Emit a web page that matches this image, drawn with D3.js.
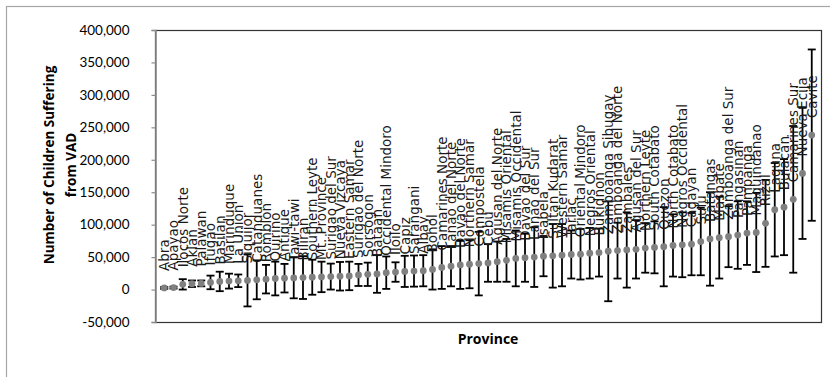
<!DOCTYPE html>
<html>
<head>
<meta charset="utf-8">
<script src="https://cdn.jsdelivr.net/npm/d3@7"></script>
<style>
  html, body { margin: 0; padding: 0; background: #fff; overflow: hidden; }
  svg { display: block; }
</style>
</head>
<body>
<svg id="chart" width="830" height="377"></svg>
<script>
// Provinces, sorted by estimated number of children with VAD
const provinces = [
  "Abra", "Apayao", "Ilocos Norte", "Aklan", "Palawan", "Ifugao", "Basilan",
  "Marinduque", "La Union", "Siquijor", "Catanduanes", "Romblon", "Quirino",
  "Antique", "Tawi-tawi", "Biliran", "Southern Leyte", "Mt. Province",
  "Surigao del Sur", "Nueva Vizcaya", "Eastern Samar", "Surigao del Norte",
  "Sorsogon", "Bataan", "Occidental Mindoro", "Iloilo", "Capiz", "Sarangani",
  "Albay", "Bohol", "Camarines Norte", "Lanao del Norte", "Davao del Norte",
  "Northern Samar", "Compostela", "Cebu", "Agusan del Norte", "Misamis Oriental",
  "Misamis Occidental", "Davao del Sur", "Lanao del Sur", "Isabela",
  "Sultan Kudarat", "Western Samar", "Tarlac", "Oriental Mindoro",
  "Negros Oriental", "Bukidnon", "Zamboanga Sibugay", "Zamboanga del Norte",
  "Zambales", "Agusan del Sur", "Northern Leyte", "South Cotabato", "Quezon",
  "North Cotabato", "Negros Occidental", "Cagayan", "Sulu", "Batangas",
  "Masbate", "Zamboanga del Sur", "Pangasinan", "Pampanga", "Maguindanao",
  "Rizal", "Laguna", "Bulacan", "Camarines Sur", "Nueva Ecija", "Cavite"
];

// Estimated number of children suffering from VAD
const children = [
  2500, 3000, 8000, 9000, 9500, 11000, 12500,
  13000, 13500, 14000, 15000, 16000, 17000,
  17500, 18000, 18500, 19000, 19500,
  20000, 20500, 21000, 22500,
  23500, 24000, 26000, 27000, 28000, 28500,
  29000, 31000, 34000, 36000, 38000,
  39000, 40000, 41000, 43000, 45000,
  48000, 49000, 50000, 51500,
  52000, 53000, 54000, 54500,
  56000, 57000, 59000, 60000,
  61000, 62000, 64000, 65000, 66000,
  68000, 69000, 70000, 74000, 78000,
  80000, 81500, 84000, 87000, 88000,
  102000, 123000, 127000, 139000, 179000, 238000
];

// Half-width of each error bar
const errors = [
  1500, 1500, 8000, 5000, 4500, 10500, 15000,
  11500, 9700, 40000, 30000, 22000, 26000,
  22000, 31500, 33000, 27000, 23500,
  20000, 22000, 22000, 17000,
  18000, 29000, 25000, 15000, 24000, 24000,
  24000, 31000, 33000, 31000, 37000,
  37000, 49000, 29000, 31000, 33000,
  43000, 37000, 46000, 31000,
  49000, 48000, 37000, 39000,
  39000, 37000, 77000, 43000,
  58000, 45000, 38000, 40000, 61000,
  48000, 50000, 48000, 52000, 72000,
  63000, 47000, 52000, 49000, 61000,
  67000, 72000, 74000, 113000, 101000, 132000
];

// Value axis ticks
const yTickValues = [-50000, 0, 50000, 100000, 150000, 200000, 250000, 300000, 350000, 400000];

const yTitleLines = ["Number of Children Suffering", "from VAD"];
const xTitle = "Province";

const svg = d3.select("#chart");
const plot = { left: 155, right: 821, top: 30, bottom: 322 };

const x = d3.scalePoint()
  .domain(provinces)
  .range([plot.left, plot.right])
  .padding(1);

const y = d3.scaleLinear()
  .domain([-50000, 400000])
  .range([plot.bottom, plot.top]);

const rows = provinces.map((p, i) => ({ name: p, value: children[i], err: errors[i] }));

// Chart area border (right and bottom edges run past the canvas)
svg.append("rect")
  .attr("x", 6.5).attr("y", 6.5)
  .attr("width", 840).attr("height", 390)
  .attr("fill", "#fff")
  .attr("stroke", "#a6a6a6")
  .attr("stroke-width", 1.2);

// Plot area frame
svg.append("rect")
  .attr("x", plot.left + 0.5).attr("y", plot.top + 0.5)
  .attr("width", plot.right - plot.left).attr("height", plot.bottom - plot.top)
  .attr("fill", "none")
  .attr("stroke", "#333")
  .attr("stroke-width", 1.2);

// Value axis
const fmt = d3.format(",");
const yAxis = d3.axisLeft(y)
  .tickValues(yTickValues)
  .tickSize(4)
  .tickPadding(22)
  .tickFormat(d => fmt(d).replace("\u2212", "-"));

const gy = svg.append("g")
  .attr("transform", `translate(${plot.left + 0.5},0)`)
  .call(yAxis);
gy.select(".domain").attr("stroke", "#8c8c8c").attr("stroke-width", 1.6);
gy.selectAll(".tick line").attr("stroke", "#8c8c8c").attr("stroke-width", 1.2);
gy.selectAll(".tick text")
  .attr("fill", "#000")
  .style("font-family", "Lato, 'Open Sans', sans-serif")
  .style("font-size", "13.5px");

// Error bars
const capW = 4;
const eb = svg.append("g").attr("stroke", "#000").attr("stroke-width", 1.8).attr("fill", "none");
eb.selectAll("line.stem")
  .data(rows).join("line")
  .attr("class", "stem")
  .attr("x1", d => x(d.name)).attr("x2", d => x(d.name))
  .attr("y1", d => y(d.value - d.err)).attr("y2", d => y(d.value + d.err));
eb.selectAll("line.capTop")
  .data(rows).join("line")
  .attr("class", "capTop")
  .attr("x1", d => x(d.name) - capW).attr("x2", d => x(d.name) + capW)
  .attr("y1", d => y(d.value + d.err)).attr("y2", d => y(d.value + d.err));
eb.selectAll("line.capBot")
  .data(rows).join("line")
  .attr("class", "capBot")
  .attr("x1", d => x(d.name) - capW).attr("x2", d => x(d.name) + capW)
  .attr("y1", d => y(d.value - d.err)).attr("y2", d => y(d.value - d.err));

// Points
svg.append("g").selectAll("circle")
  .data(rows).join("circle")
  .attr("cx", d => x(d.name))
  .attr("cy", d => y(d.value))
  .attr("r", 3.4)
  .attr("fill", "#808080");

// Province labels above each point, rotated
svg.append("g").selectAll("text")
  .data(rows).join("text")
  .attr("transform", d => `translate(${x(d.name)},${y(d.value) - 17}) rotate(-90)`)
  .attr("dy", "0.36em")
  .attr("text-anchor", "start")
  .style("font-family", "'DejaVu Sans', Verdana, sans-serif")
  .style("font-size", "13.5px")
  .attr("fill", "#1a1a1a")
  .text(d => d.name);

// Axis titles
const yt = svg.append("text")
  .attr("transform", "translate(59,165) rotate(-90)")
  .attr("text-anchor", "middle")
  .style("font-family", "'Open Sans', Lato, sans-serif")
  .style("font-weight", "700")
  .style("font-size", "13.5px")
  .attr("fill", "#000");
yTitleLines.forEach((line, i) => {
  yt.append("tspan").attr("x", 0).attr("dy", i === 0 ? "-0.35em" : "1.6em").text(line);
});

svg.append("text")
  .attr("x", (plot.left + plot.right) / 2)
  .attr("y", 344)
  .attr("text-anchor", "middle")
  .style("font-family", "'Open Sans', Lato, sans-serif")
  .style("font-weight", "700")
  .style("font-size", "14px")
  .attr("fill", "#000")
  .text(xTitle);
</script>
</body>
</html>
